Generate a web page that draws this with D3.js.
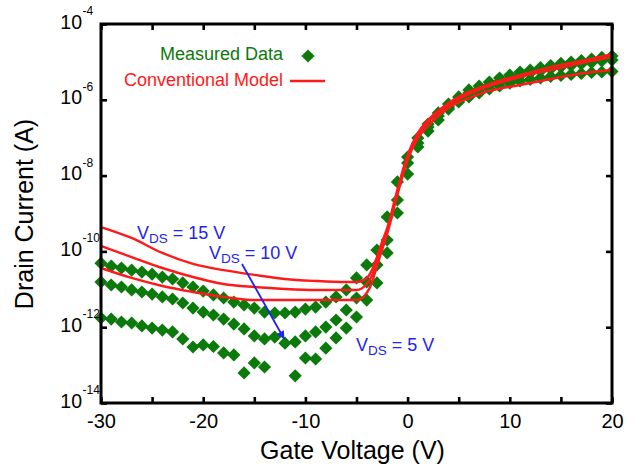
<!DOCTYPE html>
<html><head><meta charset="utf-8">
<script src="https://cdn.jsdelivr.net/npm/d3@7"></script>
<style>
html,body{margin:0;padding:0;background:#fff;}
svg{display:block;font-family:"Liberation Sans",Arial,Helvetica,sans-serif;}
</style></head>
<body>
<svg id="chart" width="643" height="468"></svg>
<script>
// ---- data ----
const gateVoltage = [-30,-29,-28,-27,-26,-25,-24,-23,-22,-21,-20,-19,-18,-17,-16,-15,-14,-13,-12,-11,-10,-9,-8,-7,-6,-5,-4,-3,-2,-1,0,1,2,3,4,5,6,7,8,9,10,11,12,13,14,15,16,17,18,19,20];
const measVds15 = [4.9e-11,4.1e-11,3.65e-11,3.2e-11,2.85e-11,2.5e-11,2.1e-11,1.87e-11,1.47e-11,1.15e-11,
  9.0e-12,7.1e-12,5.9e-12,4.6e-12,3.85e-12,3.2e-12,2.5e-12,2.37e-12,2.37e-12,2.5e-12,
  3.0e-12,3.4e-12,4.6e-12,6.3e-12,9.6e-12,2.0e-11,4.4e-11,1.09e-10,8.1e-10,6.8e-9,
  3.1e-8,9.8e-8,2.3e-7,4.5e-7,7.7e-7,1.19e-6,1.82e-6,2.31e-6,2.95e-6,3.76e-6,
  4.5e-6,5.4e-6,6.1e-6,7.1e-6,8.0e-6,9.1e-6,9.9e-6,1.09e-5,1.19e-5,1.31e-5,1.43e-5];
const measVds10 = [1.56e-11,1.30e-11,1.15e-11,9.6e-12,8.5e-12,7.5e-12,6.3e-12,5.55e-12,4.35e-12,3.2e-12,
  2.5e-12,2.1e-12,1.64e-12,1.21e-12,9.0e-13,5.9e-13,4.9e-13,5.5e-13,3.8e-13,4.1e-13,
  5.9e-13,7.5e-13,1.01e-12,1.55e-12,2.84e-12,5.9e-12,1.56e-11,4.4e-11,2.0e-10,2.27e-9,
  2.15e-8,7.2e-8,1.91e-7,3.74e-7,6.5e-7,9.9e-7,1.51e-6,1.93e-6,2.46e-6,3.04e-6,
  3.65e-6,4.4e-6,5.1e-6,5.75e-6,6.5e-6,7.3e-6,8.0e-6,8.8e-6,9.6e-6,1.06e-5,1.12e-5];
const measVds5 = [1.75e-12,1.64e-12,1.37e-12,1.29e-12,1.08e-12,9.5e-13,8.4e-13,7.5e-13,4.9e-13,3.0e-13,
  3.4e-13,3.1e-13,2.1e-13,1.85e-13,6.2e-14,1.14e-13,8.9e-14,null,null,5.2e-14,
  1.54e-13,1.45e-13,2.8e-13,5.2e-13,9.5e-13,1.86e-12,5.2e-12,1.47e-11,9.1e-11,1.03e-9,
  1.10e-8,5.7e-8,1.50e-7,2.93e-7,5.7e-7,8.75e-7,1.19e-6,1.51e-6,1.93e-6,2.31e-6,
  2.77e-6,3.13e-6,3.43e-6,3.76e-6,4.12e-6,4.38e-6,4.66e-6,4.94e-6,5.25e-6,5.42e-6,5.58e-6];

const modelVg = [-30,-27,-24,-21,-18,-15,-12,-9,-6,-5,-4,-3.5,-3,-2.5,-2,-1,0,1,2,4,6,8,11,14,17,20];
const modelVds15 = [4.4e-10,2.26e-10,9.1e-11,4.7e-11,3.2e-11,2.4e-11,1.87e-11,1.66e-11,1.56e-11,1.56e-11,1.99e-11,3.2e-11,7.1e-11,1.77e-10,4.1e-10,4.2e-9,3.5e-8,1.33e-7,2.93e-7,8.2e-7,1.61e-6,2.61e-6,4.5e-6,7.3e-6,1.06e-5,1.61e-5];
const modelVds10 = [1.39e-10,7.1e-11,3.65e-11,2.11e-11,1.38e-11,1.15e-11,1.02e-11,9.6e-12,9.6e-12,9.6e-12,1.38e-11,2.24e-11,5.25e-11,1.39e-10,3.45e-10,3.7e-9,3.1e-8,1.18e-7,2.59e-7,7.3e-7,1.42e-6,2.31e-6,4.0e-6,6.1e-6,9.35e-6,1.35e-5];
const modelVds5 = [3.65e-11,1.99e-11,1.22e-11,8.5e-12,6.3e-12,5.2e-12,5.2e-12,5.2e-12,5.2e-12,5.2e-12,8.0e-12,1.47e-11,4.1e-11,1.09e-10,2.88e-10,3.1e-9,2.58e-8,9.8e-8,2.04e-7,6.1e-7,1.11e-6,1.71e-6,2.46e-6,3.54e-6,4.94e-6,6.1e-6];

const xTicks = [-30,-25,-20,-15,-10,-5,0,5,10,15,20];
const xTickLabels = ["-30","","-20","","-10","","0","","10","","20"];
const yTicks = [1e-4,1e-6,1e-8,1e-10,1e-12,1e-14];
const yTickExponents = ["-4","-6","-8","-10","-12","-14"];
const xTitle = "Gate Voltage (V)";
const yTitle = "Drain Current (A)";
const legendLabels = ["Measured Data","Conventional Model"];
const vdsLabels = ["15","10","5"];

// ---- drawing ----
const GREEN = "#0b7a0b", RED = "#ff1a1a", BLUE = "#2222ee";
const svg = d3.select("#chart");
const L = 101, R = 612, T = 24, B = 403;
const x = d3.scaleLinear().domain([-30,20]).range([L,R]);
const y = d3.scaleLog().domain([1e-14,1e-4]).range([B,T]);

const plot = svg.append("g");

// measured diamonds
const diamond = "M0,-6.6L6.6,0L0,6.6L-6.6,0Z";
[measVds15, measVds10, measVds5].forEach(series => {
  const pts = gateVoltage.map((v,i)=>({v, c: series[i]})).filter(d=>d.c!=null);
  plot.append("g").selectAll("path").data(pts).join("path")
    .attr("d", diamond)
    .attr("transform", d=>`translate(${x(d.v)},${y(d.c)})`)
    .attr("fill", GREEN);
});

// model curves
const line = d3.line().x(d=>x(d.v)).y(d=>y(d.c)).curve(d3.curveMonotoneX);
[modelVds15, modelVds10, modelVds5].forEach(series => {
  plot.append("path")
    .datum(modelVg.map((v,i)=>({v, c: series[i]})))
    .attr("d", line).attr("fill","none").attr("stroke",RED).attr("stroke-width",2.4);
});

// axes (inward ticks)
function styleAxis(g){
  g.select(".domain").remove();
  g.selectAll(".tick line").attr("stroke","#000").attr("stroke-width",2.6);
  g.selectAll(".tick text").attr("fill","#000").attr("font-size",20).attr("font-family","Liberation Sans, Arial, sans-serif");
}
svg.append("g").attr("transform",`translate(0,${B})`)
  .call(d3.axisBottom(x).tickValues(xTicks).tickSize(-6).tickPadding(11)
    .tickFormat((d,i)=>xTickLabels[i])).call(styleAxis);
svg.append("g").attr("transform",`translate(0,${T})`)
  .call(d3.axisTop(x).tickValues(xTicks).tickSize(-6).tickFormat("")).call(styleAxis);
svg.append("g").attr("transform",`translate(${L},0)`)
  .call(d3.axisLeft(y).tickValues(yTicks).tickSize(-6).tickFormat("")).call(styleAxis);
svg.append("g").attr("transform",`translate(${R},0)`)
  .call(d3.axisRight(y).tickValues(yTicks).tickSize(-6).tickFormat("")).call(styleAxis);

// frame
svg.append("rect").attr("x",L).attr("y",T).attr("width",R-L).attr("height",B-T)
  .attr("fill","none").attr("stroke","#000").attr("stroke-width",3);

// y tick labels 10^n
const yl = svg.append("g").attr("font-family","Liberation Sans, Arial, sans-serif").attr("fill","#000");
yTicks.forEach((t,i)=>{
  yl.append("text").attr("x",82).attr("y",y(t)+4.5).attr("text-anchor","end")
    .attr("font-size",19.5).text("10");
  yl.append("text").attr("x",82.5).attr("y",y(t)-9).attr("text-anchor","start")
    .attr("font-size",12).text(yTickExponents[i]);
});

// axis titles
svg.append("text").attr("x",352.5).attr("y",459).attr("text-anchor","middle")
  .attr("font-size",25).attr("fill","#000").text(xTitle);
svg.append("text").attr("transform","translate(33,214) rotate(-90)").attr("text-anchor","middle")
  .attr("font-size",25).attr("fill","#000").text(yTitle);

// legend
svg.append("text").attr("x",283).attr("y",60).attr("text-anchor","end")
  .attr("font-size",18).attr("fill",GREEN).text(legendLabels[0]);
svg.append("path").attr("d",diamond).attr("transform","translate(308,56)").attr("fill",GREEN);
svg.append("text").attr("x",283).attr("y",86).attr("text-anchor","end")
  .attr("font-size",18).attr("fill",RED).text(legendLabels[1]);
svg.append("line").attr("x1",290).attr("x2",325).attr("y1",81).attr("y2",81)
  .attr("stroke",RED).attr("stroke-width",2.4);

// VDS annotations
function vdsLabel(px, py, val){
  const t = svg.append("text").attr("x",px).attr("y",py).attr("fill",BLUE).attr("font-size",18);
  t.append("tspan").text("V");
  t.append("tspan").attr("font-size",13.5).attr("dy",4).text("DS");
  t.append("tspan").attr("dy",-4).text(" = " + val + " V");
}
vdsLabel(137, 239, vdsLabels[0]);
vdsLabel(209, 259, vdsLabels[1]);
vdsLabel(356, 351, vdsLabels[2]);

// arrow
svg.append("defs").append("marker").attr("id","ah").attr("viewBox","0 0 10 10")
  .attr("refX",9).attr("refY",5).attr("markerWidth",10).attr("markerHeight",8)
  .attr("markerUnits","userSpaceOnUse").attr("orient","auto")
  .append("path").attr("d","M0,0L10,5L0,10Z").attr("fill",BLUE);
svg.append("line").attr("x1",242).attr("y1",264).attr("x2",x(-12.1)).attr("y2",y(4.2e-13)-3)
  .attr("stroke",BLUE).attr("stroke-width",1.8).attr("marker-end","url(#ah)");
</script>
</body></html>
